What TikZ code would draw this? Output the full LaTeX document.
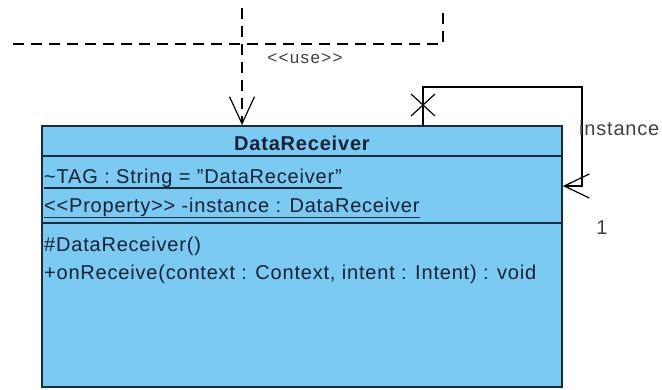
\documentclass[tikz,border=0pt]{standalone}
\usepackage{fontspec}
\setmainfont{Liberation Sans}[LetterSpace=4]
\usetikzlibrary{arrows.meta}
\definecolor{classfill}{RGB}{122,202,242}
\definecolor{classline}{RGB}{28,44,64}
\definecolor{classtext}{RGB}{18,32,52}
\newcommand{\lguil}{{<}{<}}
\newcommand{\rguil}{{>}{>}}
\newcommand{\dq}{\char34\relax}
\tikzset{
  classbox/.style={draw=classline, line width=1.8pt, fill=classfill, inner sep=0pt},
  member/.style={anchor=base west, inner sep=0pt, text=classtext, font=\fontsize{20}{24}\selectfont},
  title/.style={anchor=base, inner sep=0pt, text=classtext, font=\fontsize{20}{24}\selectfont\bfseries},
  divider/.style={draw=classline, line width=1.4pt},
  static/.style={draw=classline, line width=1.1pt},
  connlabel/.style={inner sep=0pt, text=black!75, font=\fontsize{20}{24}\selectfont},
  uselabel/.style={inner sep=0pt, text=black!75, font=\fontsize{17}{20}\selectfont\addfontfeature{LetterSpace=8}},
  dep/.style={draw=black, line width=1.2pt, dash pattern=on 11pt off 7pt,
    -{Straight Barb[length=27pt,width=25pt,line width=1.2pt]}},
  dashline/.style={draw=black, line width=1.2pt, dash pattern=on 11pt off 7pt},
  assoc/.style={draw=black, line width=1.2pt,
    -{Straight Barb[length=25pt,width=24pt,line width=1.2pt]}}
}
\begin{document}
\begin{tikzpicture}[x=1pt,y=-1pt]
\useasboundingbox[fill=white] (0,0) rectangle (662,389);

% class DataReceiver
\node[classbox, minimum width=520pt, minimum height=261pt] (cls) at (302,256.5) {};
\draw[divider] (cls.west |- 0,156) -- (cls.east |- 0,156);
\draw[divider] (cls.west |- 0,223) -- (cls.east |- 0,223);

\node[title] (name) at (302,150) {DataReceiver};
\node[member] (tag) at (44,183) {\textasciitilde TAG : String = \dq DataReceiver\dq};
\node[member] (inst) at (44,212) {\lguil Property\rguil\ -instance : DataReceiver};
\node[member] (ctor) at (44,251) {\#DataReceiver()};
\node[member] (recv) at (44,279) {+onReceive(context : Context, intent : Intent) : void};
\draw[static] (tag.west |- 0,188) -- (tag.east |- 0,188);
\draw[static] (inst.west |- 0,217.5) -- (inst.east |- 0,217.5);

% <<use>> dependency coming from above
\coordinate (usetop) at (242,8);
\coordinate (lineleft) at (13,44);
\coordinate (lineright) at (443,44);
\coordinate (righttop) at (443,8);
\draw[dashline] (lineleft) -- (lineright) -- (righttop);
\draw[dep] (usetop) -- (usetop |- cls.north);
\node[uselabel] (uselbl) at (305,59) {\lguil use\rguil};

% self association "instance"
\coordinate (selfstart) at (423,126);
\coordinate (selftop) at (582,87);
\coordinate (selfend) at (582,186);
\draw[assoc] (selfstart) |- (selftop) -- (selfend) -- (cls.east |- selfend);
\draw[line width=1.2pt] (411,94) -- (435,116);
\draw[line width=1.2pt] (411,116) -- (435,94);
\node[connlabel, anchor=west] (rolename) at (579,128) {instance};
\node[connlabel] (mult) at (602,228) {1};
\end{tikzpicture}
\end{document}
